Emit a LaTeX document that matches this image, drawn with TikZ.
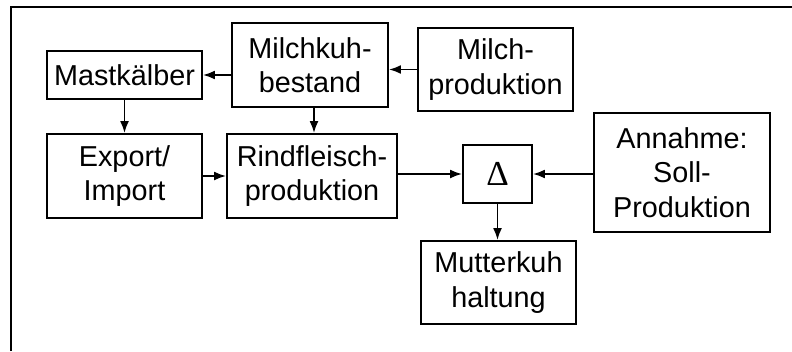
\documentclass[tikz,border=0pt]{standalone}
\usepackage{fontspec}
\setmainfont{Liberation Sans}
\newfontfamily\deltafont{Liberation Serif}
\usetikzlibrary{arrows.meta}
\begin{document}
\begin{tikzpicture}[x=1pt,y=-1pt,
  box/.style={draw,line width=1.9pt,rectangle,inner sep=0pt,align=center,
    font=\fontsize{28.8}{34.5}\selectfont},
  arr/.style={line width=1.9pt,-{Latex[length=12pt,width=9pt]}}]
\useasboundingbox (0,0) rectangle (792,351);
% frame lines
\draw[line width=2pt] (11,351) -- (11,6.5) -- (792,6.5);
% blocks
\node[box,minimum width=155pt,minimum height=48pt] (mast) at (124.5,75) {Mastkälber};
\node[box,minimum width=156pt,minimum height=84pt] (kuh) at (310,65) {Milchkuh-\\bestand};
\node[box,minimum width=155pt,minimum height=83pt] (mprod) at (495.5,69.5) {Milch-\\produktion};
\node[box,minimum width=155pt,minimum height=84pt] (export) at (124.5,176) {Export/\\Import};
\node[box,minimum width=170pt,minimum height=84pt] (rind) at (312,176) {Rindfleisch-\\produktion};
\node[box,minimum width=69pt,minimum height=58pt,font=\deltafont\fontsize{35}{35}\selectfont] (delta) at (497.5,174) {Δ};
\node[box,minimum width=176pt,minimum height=119pt] (soll) at (682,172.5) {Annahme:\\Soll-\\Produktion};
\node[box,minimum width=155pt,minimum height=83pt] (mutter) at (498.5,282.5) {Mutterkuh\\haltung};
% flows
\draw[arr] (kuh.west |- mast.east) -- (mast.east);
\draw[arr] (mprod.west) -- (kuh.east |- mprod.west);
\draw[arr] (mast.south) -- (export.north);
\draw[arr] ([xshift=4pt]kuh.south) -- ([xshift=4pt]kuh.south |- rind.north);
\draw[arr] (export.east) -- (rind.west |- export.east);
\draw[arr] (rind.east |- delta.west) -- (delta.west);
\draw[arr] (soll.west |- delta.east) -- (delta.east);
\draw[arr] (delta.south) -- (delta.south |- mutter.north);
\end{tikzpicture}
\end{document}
